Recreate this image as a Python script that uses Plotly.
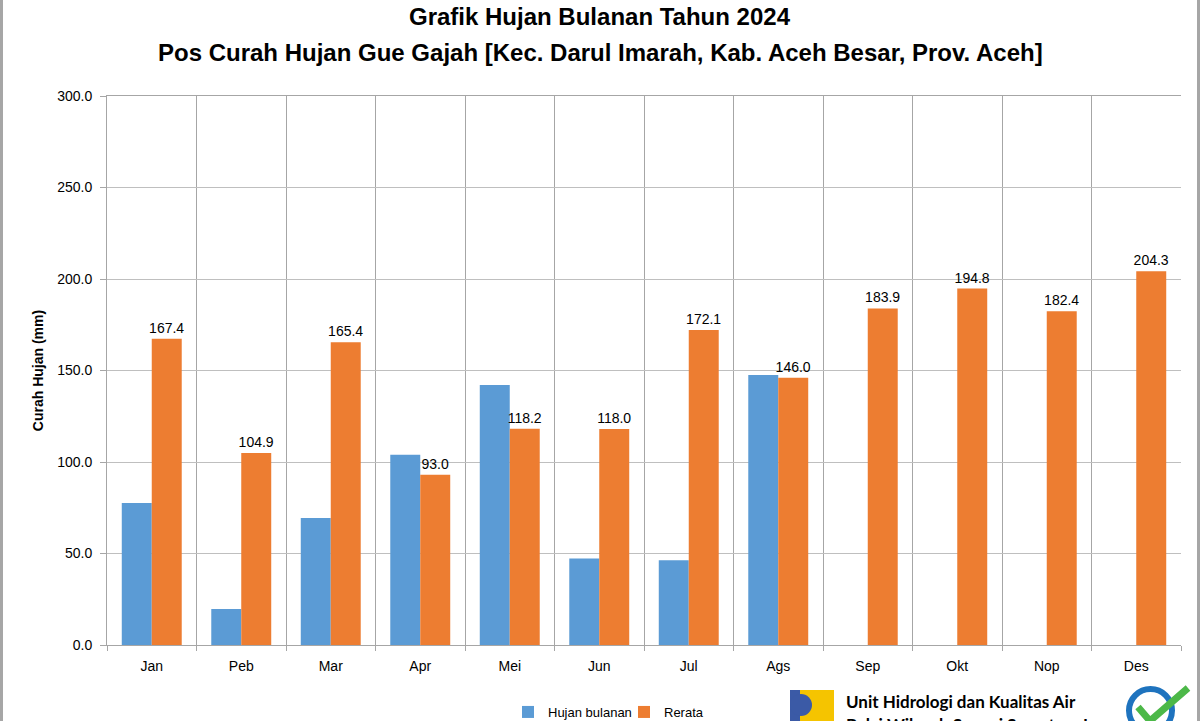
import plotly.graph_objects as go

months = ["Jan", "Peb", "Mar", "Apr", "Mei", "Jun", "Jul", "Ags", "Sep", "Okt", "Nop", "Des"]
hujan_bulanan = [77.6, 19.7, 69.4, 104.0, 142.1, 47.2, 46.3, 147.5, None, None, None, None]
rerata = [167.4, 104.9, 165.4, 93.0, 118.2, 118.0, 172.1, 146.0, 183.9, 194.8, 182.4, 204.3]
y_ticks = [0, 50, 100, 150, 200, 250, 300]

NARROW = "Liberation Sans Narrow, Arial Narrow, Liberation Sans, Arial, sans-serif"
REG = "Liberation Sans, Arial, sans-serif"
LOGO = "Lato, Open Sans, Liberation Sans, sans-serif"

W, H = 1200, 721
L, R, T, B = 107, 1181, 96, 645

def px(x):
    return (x - L) / (R - L)

def py(y):
    return (B - y) / (B - T)

fig = go.Figure()
fig.add_trace(go.Bar(
    x=months, y=hujan_bulanan, name="Hujan bulanan",
    marker=dict(color="#5b9bd5", line=dict(width=0)),
))
fig.add_trace(go.Bar(
    x=months, y=rerata, name="Rerata",
    marker=dict(color="#ed7d31", line=dict(width=0)),
    text=[f"{v:.1f}" for v in rerata], textposition="outside", constraintext="none",
    textfont=dict(family=REG, size=14, color="#000000"), cliponaxis=False,
))

shapes = [
    dict(type="line", xref="paper", yref="paper", x0=px(1.5), x1=px(1.5), y0=py(0), y1=py(721),
         line=dict(color="#a6a6a6", width=3)),
    dict(type="line", xref="paper", yref="paper", x0=px(1198.5), x1=px(1198.5), y0=py(0), y1=py(721),
         line=dict(color="#a6a6a6", width=3)),
    # logo
    dict(type="rect", xref="paper", yref="paper", x0=px(790), x1=px(834), y0=py(690), y1=py(721),
         fillcolor="#f5c400", line=dict(width=0)),
    dict(type="rect", xref="paper", yref="paper", x0=px(790), x1=px(800), y0=py(690), y1=py(721),
         fillcolor="#3b5aa6", line=dict(width=0)),
    dict(type="circle", xref="paper", yref="paper", x0=px(790), x1=px(812), y0=py(694), y1=py(716),
         fillcolor="#3b5aa6", line=dict(width=0)),
    # ISO badge
    dict(type="circle", xref="paper", yref="paper", x0=px(1129), x1=px(1172), y0=py(689), y1=py(732),
         fillcolor="#ffffff", line=dict(color="#1e73be", width=6)),
    dict(type="path", xref="paper", yref="paper",
         path=f"M {px(1138)},{py(707)} L {px(1150)},{py(721)} L {px(1188)},{py(688)}",
         line=dict(color="#4cb848", width=7)),
]

annotations = [
    dict(text="<b>Grafik Hujan Bulanan Tahun 2024</b>", xref="paper", yref="paper",
         x=px(600), y=py(17), xanchor="center", yanchor="middle", showarrow=False,
         font=dict(family=NARROW, size=24, color="#000000")),
    dict(text="<b>Pos Curah Hujan Gue Gajah [Kec. Darul Imarah, Kab. Aceh Besar, Prov. Aceh]</b>", xref="paper", yref="paper",
         x=px(600), y=py(52), xanchor="center", yanchor="middle", showarrow=False,
         font=dict(family=NARROW, size=24, color="#000000")),
    dict(text="<b>Unit Hidrologi dan Kualitas Air</b>", xref="paper", yref="paper",
         x=px(844), y=py(701), xanchor="left", yanchor="middle", showarrow=False,
         font=dict(family=LOGO, size=17, color="#000000")),
    dict(text="<b>Balai Wilayah Sungai Sumatera I</b>", xref="paper", yref="paper",
         x=px(844), y=py(724), xanchor="left", yanchor="middle", showarrow=False,
         font=dict(family=LOGO, size=17, color="#000000")),
]

fig.update_layout(
    width=W, height=H,
    margin=dict(l=L, r=W - R, t=T, b=H - B, autoexpand=False),
    paper_bgcolor="#ffffff", plot_bgcolor="#ffffff",
    barmode="group", bargap=0.33, bargroupgap=0,
    xaxis=dict(
        type="category", tickson="boundaries", showgrid=True, gridcolor="#a6a6a6", gridwidth=1,
        showline=True, linecolor="#a6a6a6", linewidth=1, mirror=True,
        ticks="outside", ticklen=5, tickcolor="#a6a6a6", ticklabelstandoff=8,
        tickfont=dict(family=REG, size=14, color="#000000"),
    ),
    yaxis=dict(
        range=[0, 300], tickvals=y_ticks, tickformat=".1f",
        showgrid=True, gridcolor="#bfbfbf", gridwidth=1, zeroline=False,
        showline=True, linecolor="#a6a6a6", linewidth=1,
        ticks="outside", ticklen=6, tickcolor="#a6a6a6", ticklabelstandoff=5,
        tickfont=dict(family=REG, size=14, color="#000000"),
        title=dict(text="<b>Curah Hujan (mm)</b>", font=dict(family=NARROW, size=14, color="#000000"), standoff=10),
    ),
    legend=dict(
        orientation="h", x=px(508), y=py(697), xanchor="left", yanchor="top",
        font=dict(family=NARROW, size=13, color="#000000"),
        itemwidth=30, entrywidth=71, entrywidthmode="pixels",
        tracegroupgap=0, bgcolor="rgba(0,0,0,0)",
    ),
    shapes=shapes, annotations=annotations,
    showlegend=True,
)

fig.write_html("out.html")
